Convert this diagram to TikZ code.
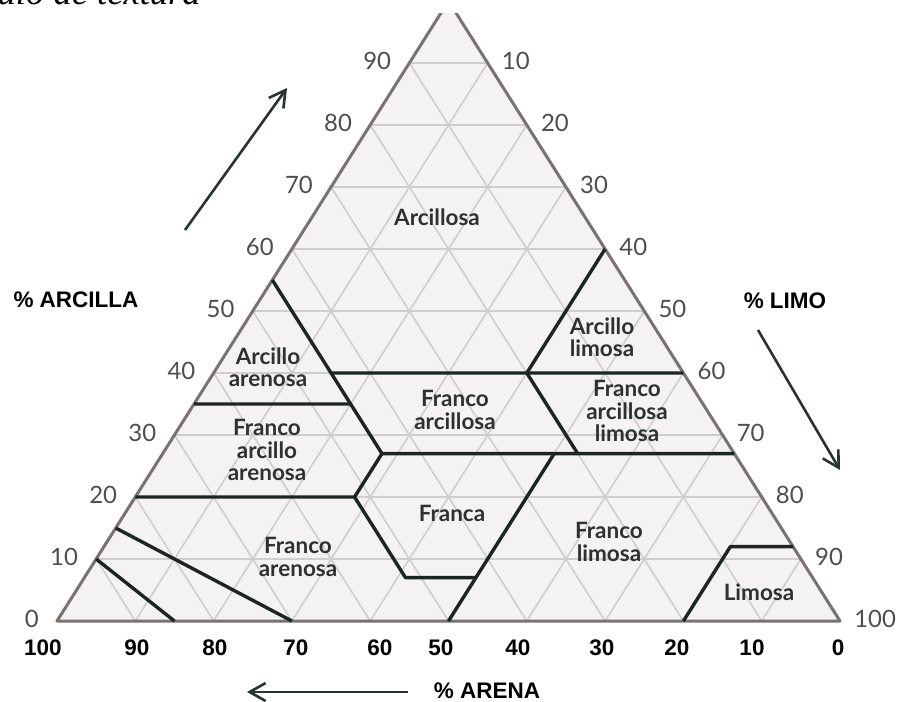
\documentclass[tikz,border=0pt]{standalone}
\usepackage{fontspec}
\setmainfont{Liberation Sans}
\newfontfamily\latofont{Lato}
\newfontfamily\captionfont{Liberation Serif}
\usepackage{xcolor}
\usetikzlibrary{arrows.meta}

\definecolor{soilfill}{RGB}{244,243,242}
\definecolor{soilgrid}{RGB}{208,206,204}
\definecolor{soiledge}{RGB}{122,114,110}
\definecolor{soilzone}{RGB}{28,38,32}
\definecolor{soiltext}{RGB}{45,50,45}
\definecolor{soilnum}{RGB}{78,78,74}
\definecolor{soilarrow}{RGB}{40,52,46}

\begin{document}
\begin{tikzpicture}[x=0.25mm,y=-0.25mm,
	gridline/.style={draw=soilgrid,line width=0.4mm},
	edgeline/.style={draw=soiledge,line width=0.75mm,line join=round},
	zone/.style={draw=soilzone,line width=0.85mm,line join=round},
	zonetext/.style={font=\latofont\bfseries\fontsize{16pt}{16pt}\selectfont,text=soiltext,align=center},
	sidenum/.style={font=\latofont\fontsize{17pt}{17pt}\selectfont,text=soilnum,inner sep=0pt},
	basenum/.style={font=\bfseries\fontsize{16pt}{16pt}\selectfont,inner sep=0pt},
	axislabel/.style={font=\bfseries\fontsize{16pt}{16pt}\selectfont,inner sep=0pt},
	axisarrow/.style={draw=soilarrow,line width=0.65mm,-{Straight Barb[length=4mm,width=4.5mm]}}]
	
	\useasboundingbox (0,0) rectangle (897,702);
	\clip (0,0) rectangle (897,702);
	
	% corners of the triangle
	\coordinate (sand) at (57,621);
	\coordinate (silt) at (840,621);
	\coordinate (clay) at (448.5,1);
	
	\begin{scope}
		\clip (0,13) rectangle (897,702);
		\fill[soilfill] (sand) -- (silt) -- (clay) -- cycle;
		\foreach \i in {10,20,...,90}{
			\pgfmathsetmacro\a{\i/100}
			\pgfmathsetmacro\b{1-\a}
			\draw[gridline] (barycentric cs:clay=\a,sand=\b) -- (barycentric cs:clay=\a,silt=\b);
			\draw[gridline] (barycentric cs:sand=\a,clay=\b) -- (barycentric cs:sand=\a,silt=\b);
			\draw[gridline] (barycentric cs:silt=\a,clay=\b) -- (barycentric cs:silt=\a,sand=\b);
		}
		\draw[edgeline] (sand) -- (silt) -- (clay) -- cycle;
	\end{scope}
	
	% class boundaries
	\coordinate (p1) at (barycentric cs:clay=.55,sand=.45);
	\coordinate (p2) at (barycentric cs:clay=.35,sand=.45,silt=.20);
	\coordinate (p3) at (barycentric cs:clay=.40,sand=.45,silt=.15);
	\coordinate (p4) at (barycentric cs:clay=.27,sand=.45,silt=.28);
	\coordinate (p5) at (barycentric cs:clay=.20,sand=.52,silt=.28);
	\coordinate (p6) at (barycentric cs:clay=.07,sand=.52,silt=.41);
	\coordinate (p7) at (barycentric cs:clay=.07,sand=.43,silt=.50);
	\coordinate (p8) at (barycentric cs:sand=.50,silt=.50);
	\coordinate (p9) at (barycentric cs:clay=.27,sand=.23,silt=.50);
	\coordinate (p10) at (barycentric cs:clay=.27,silt=.73);
	\coordinate (p11) at (barycentric cs:clay=.40,sand=.20,silt=.40);
	\coordinate (p12) at (barycentric cs:clay=.40,silt=.60);
	\coordinate (p13) at (barycentric cs:clay=.60,silt=.40);
	\coordinate (p14) at (barycentric cs:clay=.27,sand=.20,silt=.53);
	\coordinate (p15) at (barycentric cs:clay=.35,sand=.65);
	\coordinate (p16) at (barycentric cs:clay=.20,sand=.80);
	\coordinate (p17) at (barycentric cs:clay=.12,sand=.08,silt=.80);
	\coordinate (p18) at (barycentric cs:clay=.12,silt=.88);
	\coordinate (p19) at (barycentric cs:sand=.20,silt=.80);
	\coordinate (p20) at (barycentric cs:clay=.15,sand=.85);
	\coordinate (p21) at (barycentric cs:sand=.70,silt=.30);
	\coordinate (p22) at (barycentric cs:clay=.10,sand=.90);
	\coordinate (p23) at (barycentric cs:sand=.85,silt=.15);
	
	\draw[zone] (p1) -- (p4) -- (p5) -- (p6) -- (p7);
	\draw[zone] (p8) -- (p9);
	\draw[zone] (p16) -- (p5);
	\draw[zone] (p15) -- (p2);
	\draw[zone] (p3) -- (p12);
	\draw[zone] (p13) -- (p11) -- (p14);
	\draw[zone] (p4) -- (p10);
	\draw[zone] (p18) -- (p17) -- (p19);
	\draw[zone] (p20) -- (p21);
	\draw[zone] (p22) -- (p23);
	
	% side numbers
	\foreach \i in {0,10,...,90}{
		\pgfmathtruncatemacro\j{100-\i}
		\pgfmathsetmacro\a{\i/100}
		\pgfmathsetmacro\b{1-\a}
		\node[sidenum,anchor=east,xshift=-4.5mm,yshift=0.5mm] (clayn\i) at (barycentric cs:clay=\a,sand=\b) {\i};
		\node[sidenum,anchor=west,xshift=3.5mm,yshift=0.5mm] (siltn\j) at (barycentric cs:clay=\a,silt=\b) {\j};
	}
	\foreach \v/\x in {100/43,90/137,80/215,70/296,60/380,50/441,40/518,30/602,20/677,10/752,0/838}
		\node[basenum] (sandn\v) at (\x,648) {\v};
	
	% classes
	\node[zonetext] (arcillosa) at (437,217) {Arcillosa};
	\node[zonetext] (arcilloarenosa) at (268,367) {Arcillo\\arenosa};
	\node[zonetext] (arcillolimosa) at (602,337) {Arcillo\\limosa};
	\node[zonetext] (francoarcillosa) at (455,410) {Franco\\arcillosa};
	\node[zonetext] (francoarcilloarenosa) at (267,450) {Franco\\arcillo\\arenosa};
	\node[zonetext] (francoarcillosalimosa) at (627,411) {Franco\\arcillosa\\limosa};
	\node[zonetext] (franca) at (452,513) {Franca};
	\node[zonetext] (francoarenosa) at (298,557) {Franco\\arenosa};
	\node[zonetext] (francolimosa) at (609,542) {Franco\\limosa};
	\node[zonetext] (limosa) at (759,592) {Limosa};
	
	% axis names and arrows
	\node[axislabel] (arcilla) at (76,300) {\% ARCILLA};
	\node[axislabel] (limo) at (785,301) {\% LIMO};
	\node[axislabel] (arena) at (487,691) {\% ARENA};
	
	\coordinate (clayfrom) at (185,230);
	\coordinate (clayto) at (287,88);
	\coordinate (siltfrom) at (758,330);
	\coordinate (siltto) at (840,470);
	\coordinate (sandfrom) at (408,692);
	\coordinate (sandto) at (247,692);
	\draw[axisarrow] (clayfrom) -- (clayto);
	\draw[axisarrow] (siltfrom) -- (siltto);
	\draw[axisarrow] (sandfrom) -- (sandto);
	
	\node[font=\captionfont\itshape\fontsize{26pt}{26pt}\selectfont,anchor=base east,inner sep=0pt] (caption) at (201,4) {Triángulo de textura};
	
\end{tikzpicture}
\end{document}
